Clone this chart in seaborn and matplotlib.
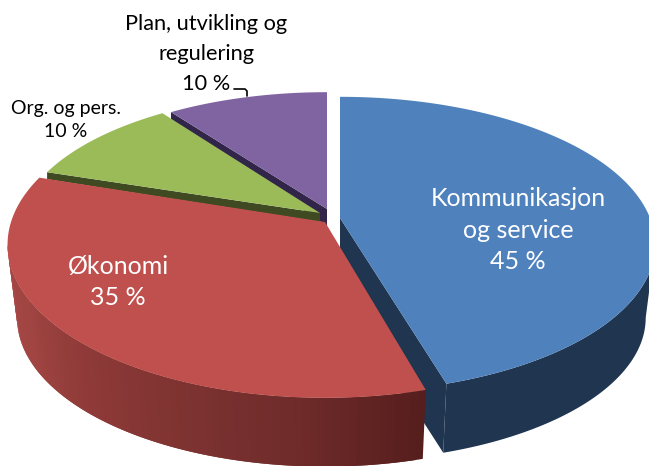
import numpy as np
import seaborn as sns
import matplotlib.pyplot as plt

labels = ["Kommunikasjon\nog service", "Økonomi", "Org. og pers.", "Plan, utvikling og\nregulering"]
values = [45, 35, 10, 10]
colors = ["#4F81BD", "#C0504D", "#9BBB59", "#8064A2"]

# look of the fake 3d pie, in pixels of the picture
apex_x = [340, 325, 320, 327]
apex_y = [218, 222, 213, 209]
rad_x = [310, 314, 300, 297]
rad_y = [143, 150, 138, 134]
persp = [0.18, 0.147, 0.147, 0.147]
trim_start = [0, 2, 0, 0]
trim_end = [1.5, 0, 0, 0]
wall_scale = 0.97
wall_drop = [74, 74]

sns.set_theme(style="white")
plt.rcParams['font.family'] = ['Lato', 'DejaVu Sans']

fig, ax = plt.subplots(figsize=(6.49, 4.66), dpi=100)
fig.subplots_adjust(0, 0, 1, 1)
ax.set_xlim(0, 649)
ax.set_ylim(466, 0)
ax.axis('off')


def project(deg, i, scale=1.0, drop=0.0):
    t = np.radians(deg)
    w = 1 + persp[i] * np.cos(t)
    x = apex_x[i] + scale * rad_x[i] * np.sin(t) / w
    y = apex_y[i] + drop - scale * rad_y[i] * np.cos(t) / w
    return x, y


# slice angles come from the values, clockwise from 12 o'clock
edges = np.cumsum([0] + values) * 3.6
start = edges[:-1] + np.array(trim_start)
end = edges[1:] + np.array(trim_end)


def top_face(i, z):
    arc = np.linspace(start[i], end[i], 120)
    x, y = project(arc, i)
    ax.fill(np.r_[apex_x[i], x], np.r_[apex_y[i], y], color=colors[i], lw=0, zorder=z)


def wall(i, a0, a1, drop, pal, z):
    arc = np.linspace(a0, a1, len(pal) + 1)
    for n in range(len(pal)):
        # each strip runs on under the next one so no seams show
        a = np.linspace(arc[n], arc[min(n + 2, len(pal))], max(4, 240 // len(pal)))
        x1, y1 = project(a, i)
        x2, y2 = project(a, i, wall_scale, drop)
        ax.fill(np.r_[x1, x2[::-1]], np.r_[y1, y2[::-1]], color=pal[n], lw=0, zorder=z + n * 0.001)


# purple and green only show a thin cut edge
cx, cy = project(start[3], 3)
ax.fill([cx, 327, 327, cx], [cy, 209, 226, cy + 10], color="#31264A", lw=0, zorder=1)
top_face(3, 2)
cx, cy = project(start[2], 2)
ax.fill([cx, 320, 320, cx], [cy, 213, 222, cy + 7], color="#3F4A22", lw=0, zorder=3)
top_face(2, 4)

# blue, wall only from the right-most point of the rim
blue_edge = np.degrees(np.arccos(-persp[0]))
bx, by = project(end[0], 0)
bx2, by2 = project(end[0], 0, wall_scale, wall_drop[0])
ax.fill([340, bx, bx2, 340], [218, by, by2, 218 + wall_drop[0]], color="#1F3550", lw=0, zorder=5)
wall(0, end[0], blue_edge, wall_drop[0], ["#1F3550"], 5)
top_face(0, 6)

# red, drawn last, it covers the blue cut
red_edge = 360 - np.degrees(np.arccos(-persp[1]))
red_wall = ["#561E1D", "#6E2B2A", "#7E3331", "#8E3A38", "#A04542", "#A84744"]
wall(1, start[1], red_edge, wall_drop[1], sns.blend_palette(red_wall, 80), 7)
top_face(1, 8)

# text
ax.text(518, 230, labels[0] + f"\n{values[0]} %", color="white", fontsize=18, ha="center", va="center", linespacing=1.45, zorder=10)
ax.text(118, 282, labels[1] + f"\n{values[1]} %", color="white", fontsize=18, ha="center", va="center", linespacing=1.45, zorder=10)
ax.text(66, 120, labels[2] + f"\n{values[2]} %", color="black", fontsize=14, ha="center", va="center", linespacing=1.45, zorder=10)
ax.text(206, 54, labels[3] + f"\n{values[3]} %", color="black", fontsize=15.7, ha="center", va="center", linespacing=1.6, zorder=10)
ax.plot([234, 245, 247, 247], [89, 89, 91, 96], color="black", lw=1.2, zorder=1)

fig.savefig("out.png", dpi=100)
